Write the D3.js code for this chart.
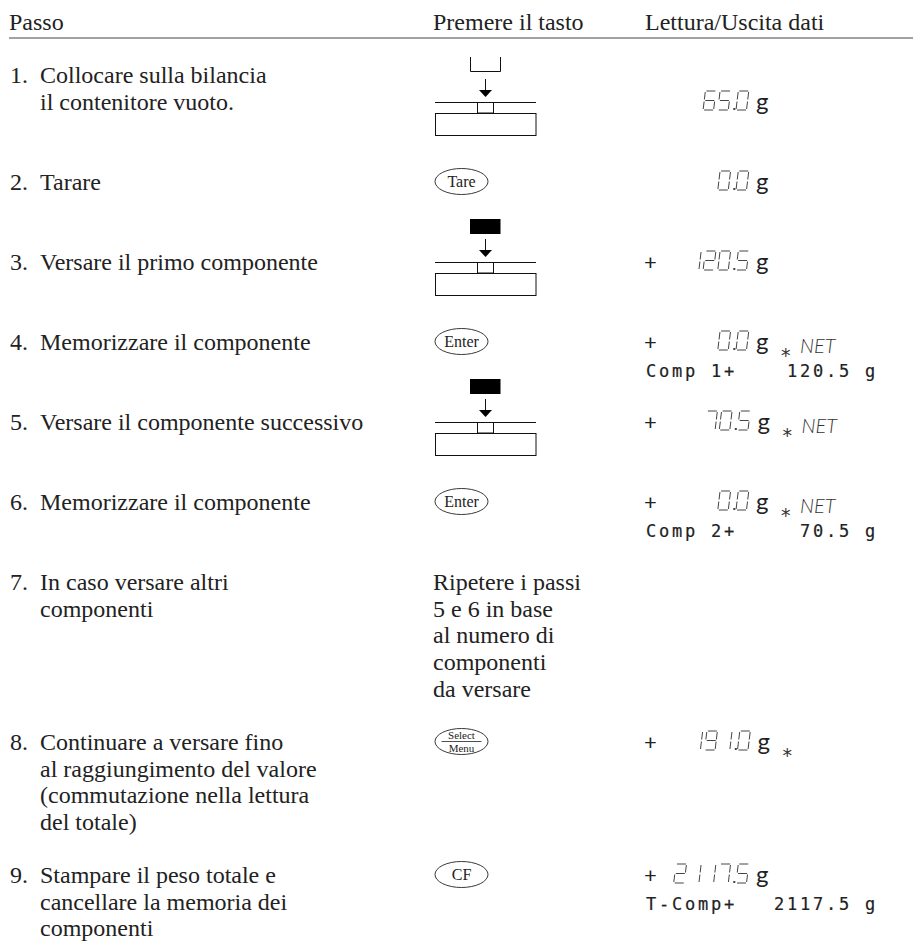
<!DOCTYPE html>
<html>
<head>
<meta charset="utf-8">
<script src="https://cdn.jsdelivr.net/npm/d3@7"></script>
<style>
  body { margin: 0; background: #fff; }
  text { white-space: pre; }
  .body { font-family: "Liberation Serif", serif; font-size: 24px; fill: #222; }
  .mono { font-family: "DejaVu Sans Mono", monospace; font-size: 17px; letter-spacing: 2.75px; fill: #222; stroke: #222; stroke-width: 0.2px; }
</style>
</head>
<body>
<svg id="chart" width="913" height="941"></svg>
<script>
// table text
const headers = ["Passo", "Premere il tasto", "Lettura/Uscita dati"];
const stepNumbers = ["1.", "2.", "3.", "4.", "5.", "6.", "7.", "8.", "9."];
const stepLines = [
  ["Collocare sulla bilancia", "il contenitore vuoto."],
  ["Tarare"],
  ["Versare il primo componente"],
  ["Memorizzare il componente"],
  ["Versare il componente successivo"],
  ["Memorizzare il componente"],
  ["In caso versare altri", "componenti"],
  ["Continuare a versare fino", "al raggiungimento del valore", "(commutazione nella lettura", "del totale)"],
  ["Stampare il peso totale e", "cancellare la memoria dei", "componenti"]
];
const actions = ["empty", "Tare", "full", "Enter", "full", "Enter", null, "Select/Menu", "CF"];
const repeatNote = ["Ripetere i passi", "5 e 6 in base", "al numero di", "componenti", "da versare"];
const displaySigns = ["", "", "+", "+", "+", "+", null, "+", "+"];
const displayValues = ["65.0", "0.0", "120.5", "0.0", "70.5", "0.0", null, "191.0", "2117.5"];
const displayFlags = ["", "", "", "* NET", "* NET", "* NET", null, "*", ""];
const printLabels = [null, null, null, "Comp 1+", null, "Comp 2+", null, null, "T-Comp+"];
const printValues = [null, null, null, "120.5 g", null, "70.5 g", null, null, "2117.5 g"];

// layout
const rowBase = [110, 190, 270, 350, 430, 510, 590, 750, 883];
const firstLineBase = [83, 190, 270, 350, 430, 510, 590, 750, 883];
const displayShift = [0, 0, 0, 0, 1.5, 0, 0, 1.5, 0];
const lineStep = 26.7;
const colNum = 10, colText = 40, colKey = 433, colPlus = 644, colG = 756;

const svg = d3.select("#chart");

function bodyText(x, y, s) {
  return svg.append("text").attr("class", "body").attr("x", x).attr("y", y).text(s);
}

// header
[9, 433, 645].forEach((x, i) => bodyText(x, 30, headers[i]));
svg.append("line").attr("x1", 9).attr("x2", 913).attr("y1", 38).attr("y2", 38)
  .attr("stroke", "#444").attr("stroke-width", 1.2);

// step column
stepLines.forEach((lines, i) => {
  bodyText(colNum, firstLineBase[i], stepNumbers[i]);
  lines.forEach((l, j) => bodyText(colText, firstLineBase[i] + j * lineStep, l));
});
repeatNote.forEach((l, j) => bodyText(colKey, 590 + j * lineStep, l));

// balance pictogram, base = text baseline of the row
function drawScale(base, full) {
  const g = svg.append("g").attr("transform", `translate(0,${base - 270})`)
    .attr("fill", "none").attr("stroke", "#111").attr("stroke-width", 1);
  if (full) {
    g.append("rect").attr("x", 470).attr("y", 219).attr("width", 30.5).attr("height", 15)
      .attr("fill", "#000").attr("stroke", "none");
  } else {
    g.append("path").attr("d", "M470.5 217V231.5H500.5V217");
  }
  g.append("line").attr("x1", 485.5).attr("x2", 485.5).attr("y1", 239).attr("y2", 252);
  g.append("path").attr("d", "M479 250H492L485.5 257Z").attr("fill", "#000").attr("stroke", "none");
  g.append("line").attr("x1", 435).attr("x2", 536).attr("y1", 262.5).attr("y2", 262.5);
  g.append("rect").attr("x", 477.5).attr("y", 262.5).attr("width", 16).attr("height", 10.5);
  g.append("rect").attr("x", 435.5).attr("y", 273.5).attr("width", 100.5).attr("height", 22);
}

// key oval
function drawKey(base, label) {
  const cy = base - 8.5, cx = 461.5;
  const g = svg.append("g");
  g.append("ellipse").attr("cx", cx).attr("cy", cy).attr("rx", 26.5).attr("ry", 13)
    .attr("fill", "none").attr("stroke", "#222").attr("stroke-width", 0.9);
  if (label === "Select/Menu") {
    const parts = label.split("/");
    g.append("line").attr("x1", cx - 20).attr("x2", cx + 20).attr("y1", cy).attr("y2", cy)
      .attr("stroke", "#222").attr("stroke-width", 0.8);
    g.append("text").attr("class", "body").style("font-size", "11px").attr("text-anchor", "middle")
      .attr("x", cx).attr("y", cy - 2.5).text(parts[0]);
    g.append("text").attr("class", "body").style("font-size", "11px").attr("text-anchor", "middle")
      .attr("x", cx).attr("y", cy + 10).text(parts[1]);
  } else {
    g.append("text").attr("class", "body").style("font-size", "16px").attr("text-anchor", "middle")
      .attr("x", cx).attr("y", cy + 5.5).text(label);
  }
}

actions.forEach((a, i) => {
  if (a === "empty") drawScale(rowBase[i], false);
  else if (a === "full") drawScale(rowBase[i], true);
  else if (a) drawKey(rowBase[i], a);
});

// seven segment display
const segmentMap = {
  "0": "abcdef", "1": "bc", "2": "abged", "5": "afgcd", "6": "afgedc",
  "7": "abc", "9": "abcfgd"
};
const digitW = 10.5, digitH = 19, digitPitch = 14.7, dotPitch = 3.5, skew = 0.12;
function segPath(seg, x, y) {
  const w = digitW, h = digitH, m = h / 2;
  const pt = (px, py) => [x + px + (h - py) * skew, y + py];
  const ends = {
    a: [[1, 0], [w - 0.5, 0]], b: [[w, 1], [w, m - 1]], c: [[w, m + 1], [w, h - 1]],
    d: [[1, h], [w - 0.5, h]], e: [[0, m + 1], [0, h - 1]], f: [[0, 1], [0, m - 1]], g: [[1, m], [w - 0.5, m]]
  };
  return d3.line()(ends[seg].map(p => pt(p[0], p[1])));
}
function drawDisplay(value, lastX, base) {
  const g = svg.append("g").attr("fill", "none").attr("stroke", "#444").attr("stroke-width", 1)
    .attr("aria-label", value);
  g.append("title").text(value);
  let x = lastX;
  value.split("").reverse().forEach(ch => {
    if (ch === ".") {
      g.append("rect").attr("x", x - 2.7).attr("y", base - 2).attr("width", 2).attr("height", 2)
        .attr("fill", "#444").attr("stroke", "none");
      x -= dotPitch;
      return;
    }
    if (x !== lastX) x -= digitPitch;
    segmentMap[ch].split("").forEach(s => g.append("path").attr("d", segPath(s, x, base - digitH)));
  });
}

const flagFont = '"Lato", sans-serif';
displayValues.forEach((v, i) => {
  if (v === null) return;
  const base = rowBase[i], dx = displayShift[i];
  if (displaySigns[i]) {
    svg.append("text").style("font-family", flagFont).style("font-size", "22px").attr("fill", "#222")
      .attr("x", colPlus).attr("y", base - 0.5).text("+");
  }
  drawDisplay(v, 736 + dx, base);
  svg.append("text").style("font-family", flagFont).style("font-size", "24px").attr("fill", "#222")
    .attr("x", colG + dx).attr("y", base).text("g");
  if (displayFlags[i]) {
    const parts = displayFlags[i].split(" ");
    svg.append("text").style("font-family", '"DejaVu Sans", sans-serif').style("font-size", "19px").attr("fill", "#333")
      .attr("x", 781 + dx).attr("y", base + 12).text(parts[0]);
    if (parts[1]) {
      svg.append("text").style("font-family", flagFont).style("font-style", "italic").style("font-weight", 300)
        .style("font-size", "20px").attr("fill", "#333").attr("x", 800 + dx).attr("y", base + 3).text(parts[1]);
    }
  }
  if (printLabels[i]) {
    svg.append("text").attr("class", "mono").attr("x", 646).attr("y", base + 27).text(printLabels[i]);
    svg.append("text").attr("class", "mono").attr("text-anchor", "end").attr("x", 878).attr("y", base + 27).text(printValues[i]);
  }
});
</script>
</body>
</html>
